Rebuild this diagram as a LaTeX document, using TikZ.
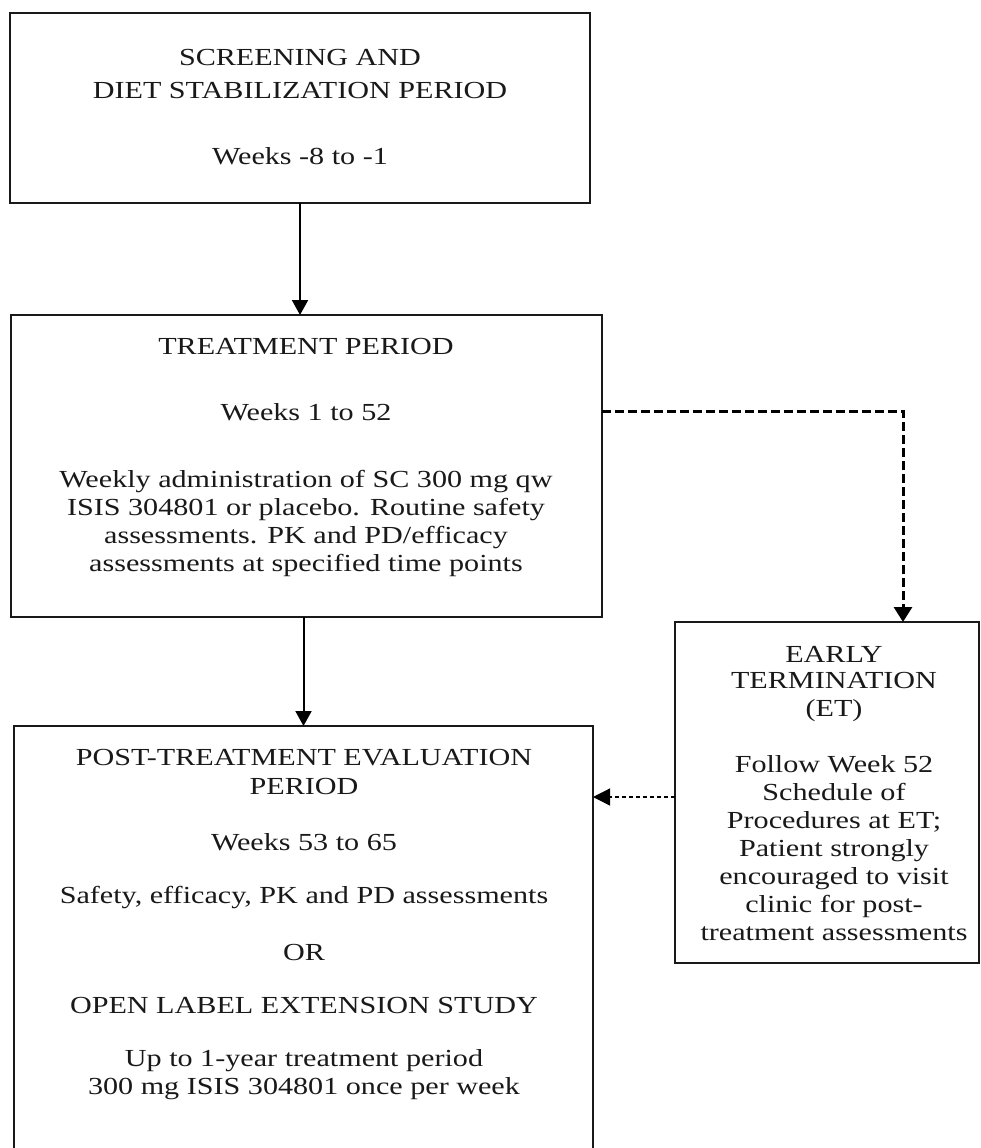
\documentclass[tikz,border=0pt]{standalone}
\usepackage{fontspec}
\setmainfont{Liberation Serif}[FakeStretch=1.23]
\usetikzlibrary{arrows.meta}
\begin{document}
\begin{tikzpicture}[x=1pt,y=-1pt,
  box/.style={draw=black!90, line width=2pt, inner sep=0pt, outer sep=0pt, anchor=north west},
  txt/.style={align=center, inner sep=0pt, anchor=north, text=black!90, font=\fontsize{24.5}{28}\selectfont},
  arr/.style={line width=2pt, -{Triangle[width=16pt,length=15pt]}},
  dasharr/.style={line width=3pt, dash pattern=on 9pt off 4pt, -{Triangle[width=18pt,length=15pt]}},
  dotarr/.style={line width=1.3pt, dash pattern=on 4pt off 3pt, -{Triangle[width=17pt,length=17pt]}}]
\useasboundingbox (0,0) rectangle (981,1148);
\clip (0,0) rectangle (981,1148);
\fill[white] (0,0) rectangle (981,1148);
% boxes
\node[box, minimum width=580pt, minimum height=190pt] (b1) at (10,13) {};
\node[box, minimum width=591pt, minimum height=302pt] (b2) at (11,315) {};
\node[box, minimum width=304pt, minimum height=341pt] (et) at (675,622) {};
\node[box, minimum width=579pt, minimum height=440pt] (b3) at (14,726) {};
% texts
\node[txt] (t1) at (300,49) {SCREENING AND\\[5pt] DIET STABILIZATION PERIOD\\[38pt] Weeks -8 to -1};
\node[txt] (t2) at (306,338) {TREATMENT PERIOD\\[38pt] Weeks 1 to 52\\[39pt] Weekly administration of SC 300 mg qw\\ ISIS 304801 or placebo. Routine safety\\ assessments. PK and PD/efficacy\\ assessments at specified time points};
\node[txt] (t3) at (304,749) {POST-TREATMENT EVALUATION\\[1pt] PERIOD\\[28pt] Weeks 53 to 65\\[25pt] Safety, efficacy, PK and PD assessments\\[29pt] OR\\[25pt] OPEN LABEL EXTENSION STUDY\\[25pt] Up to 1-year treatment period\\ 300 mg ISIS 304801 once per week};
\node[txt] (t4) at (834,646) {EARLY\\[-2pt] TERMINATION\\ (ET)\\[28pt] Follow Week 52\\ Schedule of\\ Procedures at ET;\\ Patient strongly\\ encouraged to visit\\ clinic for post-\\ treatment assessments};
% helper coordinates
\coordinate (d1) at (0,411);
\coordinate (d2) at (903,0);
\coordinate (d3) at (0,797);
% connectors
\draw[arr] (b1.south) -- (b1.south |- b2.north);
\draw[arr] (b3.north |- b2.south) -- (b3.north);
\draw[dasharr] (b2.east |- d1) -| (et.north -| d2);
\draw[dotarr] (et.west |- d3) -- (b3.east |- d3);
\end{tikzpicture}
\end{document}
